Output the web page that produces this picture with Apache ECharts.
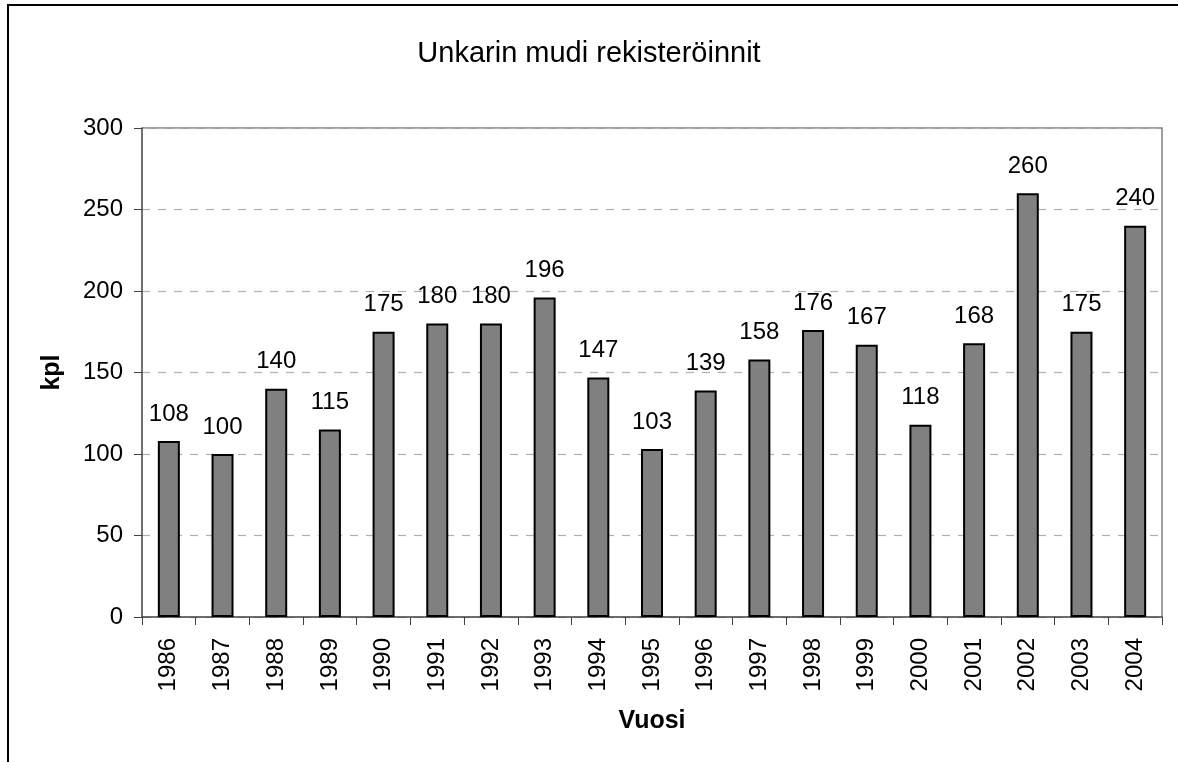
<!DOCTYPE html>
<html>
<head>
<meta charset="utf-8">
<script src="https://cdn.jsdelivr.net/npm/echarts@6/dist/echarts.min.js"></script>
<style>
  html, body { margin: 0; padding: 0; background: #fff; }
  #chart { width: 1178px; height: 762px; }
</style>
</head>
<body>
<div id="chart"></div>
<script>
// Unkarin mudi rekisteröinnit 1986-2004
const years = ['1986', '1987', '1988', '1989', '1990', '1991', '1992', '1993', '1994', '1995',
  '1996', '1997', '1998', '1999', '2000', '2001', '2002', '2003', '2004']
const counts = [108, 100, 140, 115, 175, 180, 180, 196, 147, 103,
  139, 158, 176, 167, 118, 168, 260, 175, 240]
const yTicks = [0, 50, 100, 150, 200, 250, 300]

const font = 'Liberation Sans, Arial, sans-serif'
const chart = echarts.init(document.getElementById('chart'))

chart.setOption({
  backgroundColor: '#fff',
  animation: false,
  title: {
    text: 'Unkarin mudi rekisteröinnit',
    left: 'center',
    top: 34,
    textStyle: { fontFamily: font, fontSize: 29, fontWeight: 'normal', color: '#000' },
  },
  graphic: [
    {
      type: 'rect',
      shape: { x: 8, y: 5, width: 1200, height: 800 },
      style: { fill: 'none', stroke: '#000', lineWidth: 2 },
      silent: true,
    },
    {
      // plot area frame (top / right)
      type: 'polyline',
      shape: { points: [[142, 128], [1162, 128], [1162, 617]] },
      style: { fill: 'none', stroke: '#808080', lineWidth: 1.5 },
      silent: true,
    },
  ],
  grid: { left: 142, right: 16, top: 128, bottom: 145 },
  xAxis: {
    type: 'category',
    data: years,
    name: 'Vuosi',
    nameLocation: 'middle',
    nameGap: 92,
    nameTextStyle: { fontFamily: font, fontSize: 25, fontWeight: 'bold', color: '#000' },
    axisLine: { lineStyle: { color: '#404040', width: 1.5 } },
    axisTick: { show: true, length: 8, inside: false, lineStyle: { color: '#404040' } },
    axisLabel: { rotate: 90, fontFamily: font, fontSize: 24, color: '#000', margin: 21 },
  },
  yAxis: {
    type: 'value',
    min: yTicks[0],
    max: yTicks[yTicks.length - 1],
    interval: 50,
    name: 'kpl',
    nameLocation: 'middle',
    nameGap: 77,
    nameRotate: 90,
    nameTextStyle: { fontFamily: font, fontSize: 25, fontWeight: 'bold', color: '#000' },
    axisLine: { show: true, lineStyle: { color: '#404040', width: 1.5 } },
    axisTick: { show: true, length: 8, lineStyle: { color: '#404040' } },
    axisLabel: { fontFamily: font, fontSize: 24, color: '#000', margin: 19 },
    splitLine: { show: true, lineStyle: { color: '#b0b0b0', type: [8, 8], width: 1.2 } },
  },
  series: [
    {
      type: 'bar',
      data: counts,
      barWidth: 22,
      itemStyle: { color: '#808080', borderColor: '#000', borderWidth: 2 },
      label: {
        show: true,
        position: 'top',
        distance: 15,
        fontFamily: font,
        fontSize: 24,
        color: '#000',
      },
    },
  ],
})
</script>
</body>
</html>
